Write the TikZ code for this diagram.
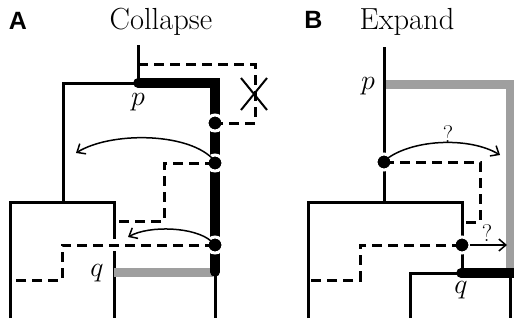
\RequirePackage{fix-cm}
\documentclass[tikz,border=0pt]{standalone}
\usepackage{fontspec}
\newfontfamily\panelfont{Liberation Sans}
\usetikzlibrary{arrows.meta}

\begin{document}
\begin{tikzpicture}[x=1pt,y=-1pt,
  branch/.style={line width=3pt},
  heavy/.style={line width=9.5pt, line cap=round, line join=miter},
  shade/.style={line width=9pt, draw=gray!75, line join=miter},
  ghost/.style={line width=3pt, dash pattern=on 10pt off 6pt},
  hop/.style={line width=1.5pt, -{Straight Barb[length=7pt,width=12pt,line width=1.5pt]}},
  knot/.style={circle, fill=black, draw=white, line width=3pt, minimum size=16pt, inner sep=0pt},
  panel/.style={font=\fontsize{25}{28}\panelfont\bfseries, inner sep=0pt},
  heading/.style={font=\fontsize{30.5}{34}\selectfont, inner sep=0pt},
  tag/.style={font=\fontsize{28}{32}\selectfont, inner sep=0pt},
  query/.style={font=\fontsize{24}{28}\selectfont, inner sep=0pt}]

\clip (0,0) rectangle (514,325);

% ---------------- panel A: collapse ----------------
\node[panel] (labA) at (18,21) {A};
\node[heading] (headA) at (161,22) {Collapse};

\coordinate (topA) at (138,45);
\coordinate (pA) at (138,83);
\coordinate (cornerA) at (215,83);
\coordinate (endA) at (215,272);
\coordinate (footA) at (215,318);
\coordinate (qA) at (114,272);

% host tree branches
\draw[branch] (topA) -- (pA);
\draw[branch] (pA) -| (63,202);
\draw[branch] (10,318) |- (114,202) -- (114,239);
\draw[branch] (114,251) -- (114,318);
\draw[branch] (endA) -- (footA);

% collapsed edge
\draw[shade] (qA) -- (213,272);
\draw[heavy] (pA) -- (cornerA) -- (endA);

\node[knot] (a1) at (215,123) {};
\node[knot] (a2) at (215,163) {};
\node[knot] (a3) at (215,245) {};

% guest lineages
\draw[ghost] (138,64) -- (255,64) -- (255,123) -- (a1.center);
\draw[ghost] (a2.center) -- (164,163) -- (164,221) -- (114,221);
\draw[ghost] (a3.center) -- (62,245) -- (62,280) -- (10,280);

\draw[line width=2pt] (241,78) -- (267,110) (267,78) -- (241,110);

\draw[hop] (212,158) .. controls (185,132) and (110,132) .. (76,153);
\draw[hop] (211,241) .. controls (195,227) and (150,225) .. (128,237);

\node[tag] (pAl) at (138,102) {$p$};
\node[tag] (qAl) at (97,273) {$q$};

% ---------------- panel B: expand ----------------
\node[panel] (labB) at (313.5,20) {B};
\node[heading] (headB) at (407,22) {Expand};

\coordinate (topB) at (384,47);
\coordinate (pB) at (384,84);
\coordinate (qB) at (461,273);

\draw[shade] (pB) -- (510,84) -- (510,272);

\draw[branch] (topB) -- (384,202);
\draw[branch] (308,318) |- (462,202) -- (462,273);
\draw[branch] (410,318) |- (qB);
\draw[branch] (510,273) -- (510,318);

\draw[heavy] (qB) -- (520,273);

\node[knot] (b1) at (384,162) {};
\node[knot] (b2) at (462,245) {};

\draw[ghost] (b1.center) -- (480,162) -- (480,222) -- (462,222);
\draw[ghost] (b2.center) -- (360,245) -- (360,280) -- (308,280);

\draw[hop] (388,158) .. controls (415,139) and (470,137) .. (500,155);
\draw[hop] (470,245) -- (507,245);

\node[query] (qu1) at (448,134) {?};
\node[query] (qu2) at (487,233) {?};

\node[tag] (pBl) at (368,86) {$p$};
\node[tag] (qBl) at (461,290) {$q$};
\end{tikzpicture}
\end{document}
